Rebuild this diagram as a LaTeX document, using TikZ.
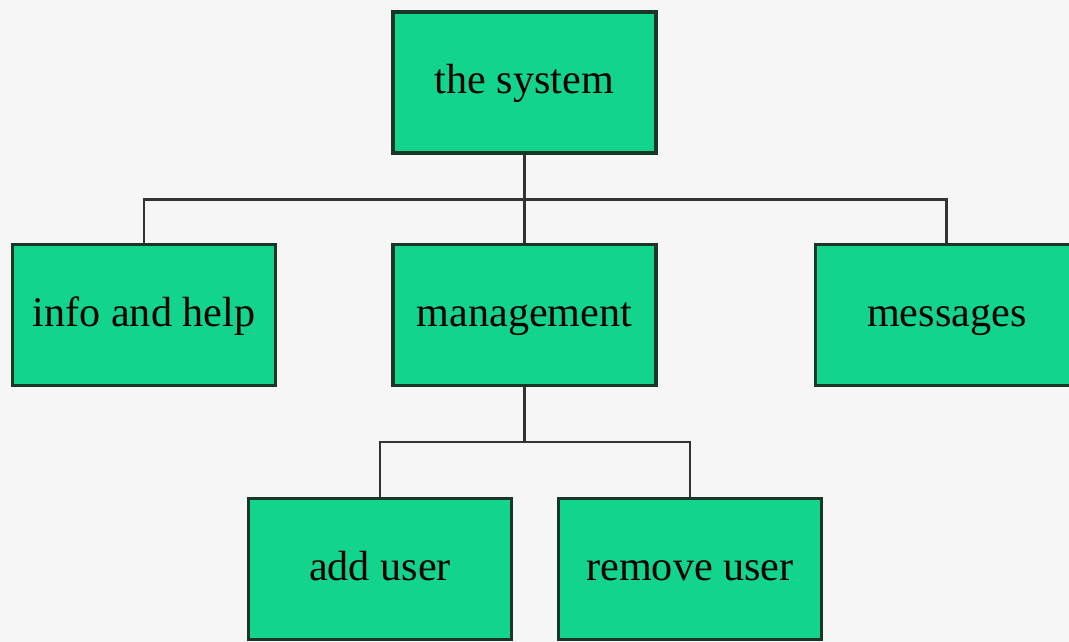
\documentclass[tikz,border=0pt]{standalone}
\usepackage{fontspec}
\setmainfont{Liberation Serif}
\usetikzlibrary{positioning,calc}
\definecolor{boxgreen}{RGB}{18,212,140}
\definecolor{boxedge}{RGB}{25,55,40}
\definecolor{bgpaper}{RGB}{246,246,246}
\tikzset{
    block/.style = {draw=boxedge, line width=2.4pt, fill=boxgreen,
            minimum width=6.575cm, minimum height=3.525cm,
            text height=16pt, text depth=0pt,
            align=center, font=\fontsize{30}{36}\selectfont},
    link/.style  = {draw=black!80, line width=2pt},
}

\begin{document}
\begin{tikzpicture}
    % Background
    \fill[bgpaper] (0,0) rectangle (26.725,-16.05);
    \useasboundingbox (0,0) rectangle (26.725,-16.05);
    % Nodes
    \node[block] (sys) at (13.11,-2.06) {the system};
    \node[block, below=2.2cm of sys] (mgmt) {management};
    \node[block, left=2.85cm of mgmt] (info) {info and help};
    \node[block, right=3.9cm of mgmt] (msg) {messages};
    \node[block, below=2.75cm of mgmt, xshift=-3.61cm] (add) {add user};
    \node[block, below=2.75cm of mgmt, xshift=4.14cm] (rem) {remove user};
    % Connectors
    \coordinate (bus1) at ($(sys.south)+(0,-1.125cm)$);
    \coordinate (bus2) at ($(mgmt.south)+(0,-1.375cm)$);
    \draw[link] (sys) -- (bus1);
    \draw[link] (bus1) -- (mgmt);
    \draw[link] (info.north) |- (bus1) -| (msg.north);
    \draw[link] (mgmt) -- (bus2);
    \draw[link] (add.north) |- (bus2) -| (rem.north);
\end{tikzpicture}
\end{document}
